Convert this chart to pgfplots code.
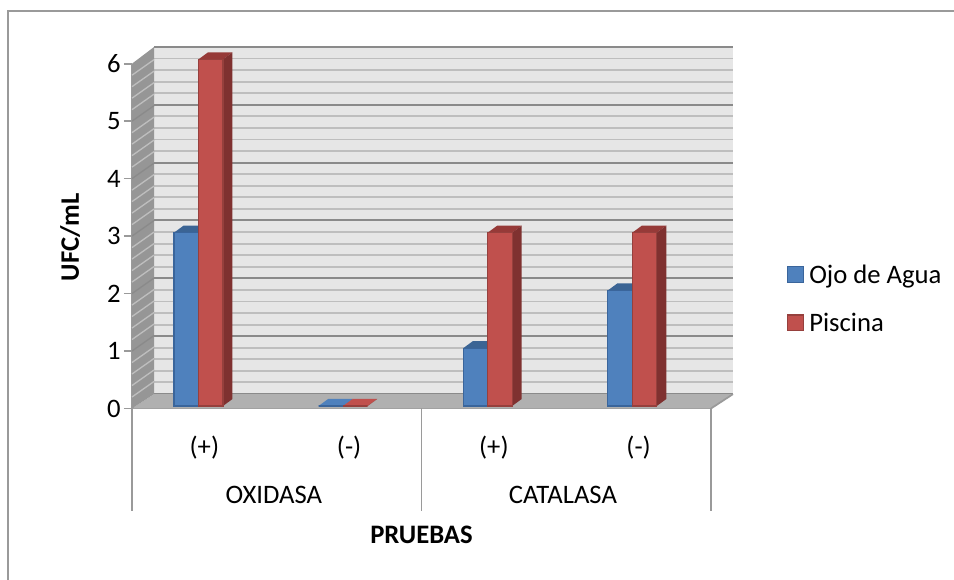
\documentclass[border=0pt]{standalone}
\usepackage{pgfplots}
\pgfplotsset{compat=1.18}
\usepackage{fontspec}
\setmainfont{Carlito}
\definecolor{wallc}{HTML}{E6E6E6}
\definecolor{minorc}{HTML}{BEBEBE}
\definecolor{majorc}{HTML}{8A8A8A}
\definecolor{floorc}{HTML}{B0B0B0}
\definecolor{sidewall}{HTML}{969696}
\definecolor{axc}{HTML}{9A9A9A}
\definecolor{blueF}{HTML}{4F81BD}
\definecolor{blueE}{HTML}{3A659B}
\definecolor{blueT}{HTML}{3B6494}
\definecolor{redF}{HTML}{C0504D}
\definecolor{redE}{HTML}{96403D}
\definecolor{redT}{HTML}{963A38}
\definecolor{redS}{HTML}{7F3130}
\newcommand\fs{\fontsize{20}{24}\selectfont}
% depth faces of a bar: #1 left x, #2 right x, #3 value, #4 top colour, #5 side colour
\newcommand\depth[5]{%
  \fill[#4] (axis cs:#1,#3) -- (axis cs:#1+0.0657,#3+0.121) -- (axis cs:#2+0.0657,#3+0.121) -- (axis cs:#2,#3) -- cycle;
  \fill[#5] (axis cs:#2,0) -- (axis cs:#2+0.0657,0.121) -- (axis cs:#2+0.0657,#3+0.121) -- (axis cs:#2,#3) -- cycle;
}
\begin{document}
\begin{tikzpicture}
\path[use as bounding box] (0,0) rectangle (715.5pt,435pt);
\draw[color=axc,line width=1.1pt] (715.5pt,426.8pt) -- (6pt,426.8pt);
\draw[color=axc,line width=1.8pt] (6pt,427.4pt) -- (6pt,0pt);
% back wall
\begin{axis}[
  name=wall, at={(115.5pt,139.5pt)}, anchor=south west, scale only axis,
  width=434.25pt, height=260.25pt,
  xmin=0, xmax=1, ymin=0, ymax=6,
  xtick=\empty, ytick={0,1,2,3,4,5,6}, yticklabels={},
  minor y tick num=4,
  major tick length=0pt, minor tick length=0pt,
  ymajorgrids, yminorgrids,
  major grid style={color=majorc,line width=1.5pt},
  minor grid style={color=minorc,line width=1.4pt},
  axis line style={draw=none},
  axis background/.style={fill=wallc},
  axis on top=false,
]
\end{axis}
% front plane: floor, side wall, ticks, labels
\begin{axis}[
  name=front, at={(99pt,128.625pt)}, anchor=south west, scale only axis,
  width=434.25pt, height=258.6pt,
  xmin=0.5, xmax=4.5, ymin=0, ymax=6, clip=false,
  axis x line*=bottom, axis y line*=left,
  axis line style={color=axc,line width=1.5pt,-},
  tick style={color=axc,line width=1.3pt},
  ytick={0,1,2,3,4,5,6}, tick align=outside, major tick length=6pt,
  xtick={1,2,3,4}, xticklabels={(+),(-),(+),(-)},
  x tick style={draw=none},
  xticklabel style={yshift=-11pt,font=\fs},
  yticklabel style={font=\fs,xshift=1pt},
  /pgf/number format/assume math mode=true,
  xlabel={\fs\bfseries PRUEBAS}, ylabel={\fs\bfseries UFC/mL},
  every axis x label/.style={at={(rel axis cs:0.5,-0.367)},anchor=center},
  every axis y label/.style={at={(rel axis cs:-0.107,0.497)},anchor=center,rotate=90},
]
\fill[floorc] (axis cs:0.5,0) -- (axis cs:4.5,0) -- (axis cs:4.652,0.25) -- (axis cs:0.652,0.25) -- cycle;
\fill[sidewall] (axis cs:0.5,0) -- (axis cs:0.652,0.25) -- (axis cs:0.652,6.29) -- (axis cs:0.5,6) -- cycle;
\pgfplotsinvokeforeach{0.2,0.4,0.6,0.8,1.2,1.4,1.6,1.8,2.2,2.4,2.6,2.8,3.2,3.4,3.6,3.8,4.2,4.4,4.6,4.8,5.2,5.4,5.6,5.8}{
  \draw[color=minorc,line width=1pt] (axis cs:0.5,#1) -- (axis cs:0.652,#1+0.27);
}
\pgfplotsinvokeforeach{1,2,3,4,5}{
  \draw[color=majorc,line width=1pt] (axis cs:0.5,#1) -- (axis cs:0.652,#1+0.27);
}
\draw[color=axc,line width=1.3pt] (axis cs:0.5,0) -- (axis cs:0.5,-1.79);
\draw[color=axc,line width=1.3pt] (axis cs:2.5,0) -- (axis cs:2.5,-1.79);
\draw[color=axc,line width=1.3pt] (axis cs:4.5,0) -- (axis cs:4.5,-1.79);
\draw[color=axc,line width=1.3pt] (axis cs:4.5,0) -- (axis cs:4.652,0.25);
\node[font=\fs,anchor=center] at (axis cs:1.48,-1.5) {OXIDASA};
\node[font=\fs,anchor=center] at (axis cs:3.477,-1.5) {CATALASA};
\end{axis}
% bars
\begin{axis}[
  name=bars, at={(94.65pt,130.5pt)}, anchor=south west, scale only axis,
  width=433.8pt, height=260pt,
  xmin=0.5, xmax=4.5, ymin=0, ymax=6, clip=false,
  hide axis,
  legend style={at={(1.142,0.309)},anchor=west,draw=none,fill=none,font=\fs,
    row sep=16.7pt,inner sep=0pt,legend cell align=left},
  legend image code/.code={\draw[#1] (0pt,-5.5pt) rectangle (12pt,6pt);\path[draw=none,fill=none] (0pt,0pt) rectangle (14.3pt,0.1pt);},
]
\depth{0.8306}{1}{3}{blueT}{blueE}
\depth{1.8306}{2}{0}{blueF}{blueE}
\depth{2.8306}{3}{1}{blueT}{blueE}
\depth{3.8306}{4}{2}{blueT}{blueE}
\addplot[ybar,bar width=18.4pt,bar shift=-9.2pt,fill=blueF,draw=blueE,line width=0.9pt]
  coordinates {(1,3) (2,0) (3,1) (4,2)};
\addlegendentry{Ojo de Agua}
\depth{1}{1.1694}{6}{redT}{redS}
\depth{2}{2.1694}{0}{redF}{redS}
\depth{3}{3.1694}{3}{redT}{redS}
\depth{4}{4.1694}{3}{redT}{redS}
\addplot[ybar,bar width=18.4pt,bar shift=9.2pt,fill=redF,draw=redE,line width=0.9pt]
  coordinates {(1,6) (2,0) (3,3) (4,3)};
\addlegendentry{Piscina}
\end{axis}
\end{tikzpicture}
\end{document}
